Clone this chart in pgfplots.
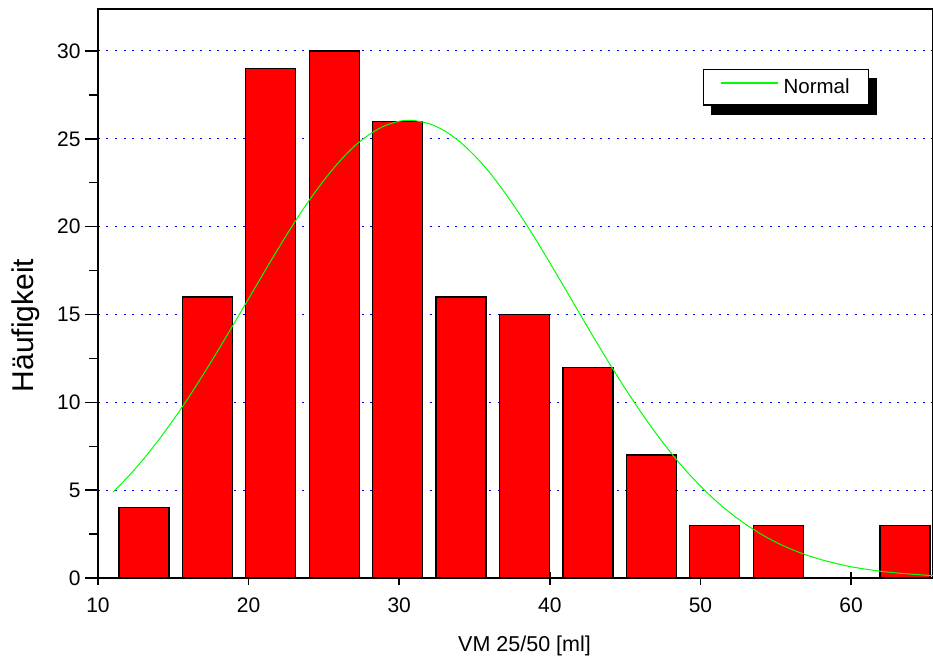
\documentclass[border=0pt]{standalone}
\usepackage{fontspec}
\setmainfont{Liberation Sans}
\usepackage{pgfplots}
\pgfplotsset{compat=1.18}
\usetikzlibrary{backgrounds}
\definecolor{barred}{HTML}{FF0000}
\definecolor{curvegreen}{HTML}{00FF00}
\definecolor{gridblue}{HTML}{0000FF}
\begin{document}
\begin{tikzpicture}
\begin{axis}[
  at={(0pt,0pt)}, anchor=south west,
  scale only axis, width=835pt, height=569pt,
  xmin=10, xmax=65.44, ymin=0, ymax=32.39,
  xtick={10,20,...,60}, ytick={0,5,...,30},
  minor y tick num=1,
  xtick pos=lower, ytick pos=left,
  xtick align=center, ytick align=outside,
  major tick length=13pt, minor tick length=9pt,
  every tick/.style={black, line width=1.5pt},
  axis line style={line width=1.5pt},
  /pgf/number format/assume math mode=true,
  ticklabel style={font=\fontsize{21}{21}\selectfont},
  xticklabel style={yshift=-10pt},
  yticklabel style={xshift=-1pt},
  ymajorgrids,
  major grid style={gridblue, line width=1pt, dash pattern=on 2pt off 6.5pt},
  xlabel={VM 25/50 [ml]},
  ylabel={Häufigkeit},
  xlabel style={font=\fontsize{21.5}{21.5}\selectfont, at={(axis description cs:0.5108,-0.1300)}, anchor=base},
  ylabel style={font=\fontsize{30}{30}\selectfont, at={(axis description cs:-0.0778,0.444)}, anchor=base},
  legend image code/.code={\fill[curvegreen, draw=none] (0pt,0.35em) rectangle (57pt,0.35em+1.3pt);},
  legend style={name=leg, at={(axis description cs:0.7246,0.8946)}, anchor=north west,
    draw=black, line width=1.2pt, fill=white,
    font=\fontsize{20.5}{24}\selectfont,
    inner xsep=17pt, inner ysep=7.5pt,
    nodes={inner xsep=2pt}},
]
\addplot[ybar, bar width=3.32, fill=barred, draw=black, line width=1.2pt, forget plot]
coordinates {(13.05,4) (17.26,16) (21.47,29) (25.68,30) (29.89,26) (34.10,16) (38.32,15) (42.53,12) (46.74,7) (50.95,3) (55.16,3) (63.58,3)};
\addplot[curvegreen, line width=1pt, smooth, mark=none]
coordinates {(11,4.89)(12,5.77)(13,6.75)(14,7.83)(15,9.00)(16,10.26)(17,11.60)(18,13.00)(19,14.44)(20,15.90)(21,17.36)(22,18.80)(23,20.18)(24,21.47)(25,22.64)(26,23.68)(27,24.56)(28,25.24)(29,25.73)(30,26.00)(30.7,26.05)(31,26.04)(32,25.86)(33,25.46)(34,24.85)(35,24.05)(36,23.08)(37,21.95)(38,20.70)(39,19.36)(40,17.94)(41,16.49)(42,15.02)(43,13.57)(44,12.15)(45,10.79)(46,9.50)(47,8.29)(48,7.17)(49,6.15)(50,5.23)(51,4.41)(52,3.69)(53,3.06)(54,2.51)(55,2.04)(56,1.65)(57,1.32)(58,1.05)(59,0.83)(60,0.64)(61,0.50)(62,0.38)(63,0.29)(64,0.22)(65,0.16)(65.44,0.14)};
\addlegendentry{\hspace{4pt}Normal}
\end{axis}
\begin{pgfonlayer}{background}
\fill[black] ([shift={(8pt,-9pt)}]leg.south west) rectangle ([shift={(8pt,-9pt)}]leg.north east);
\end{pgfonlayer}
\pgfresetboundingbox
\useasboundingbox (-98pt,-81pt) rectangle (835pt,578pt);
\end{tikzpicture}
\end{document}
